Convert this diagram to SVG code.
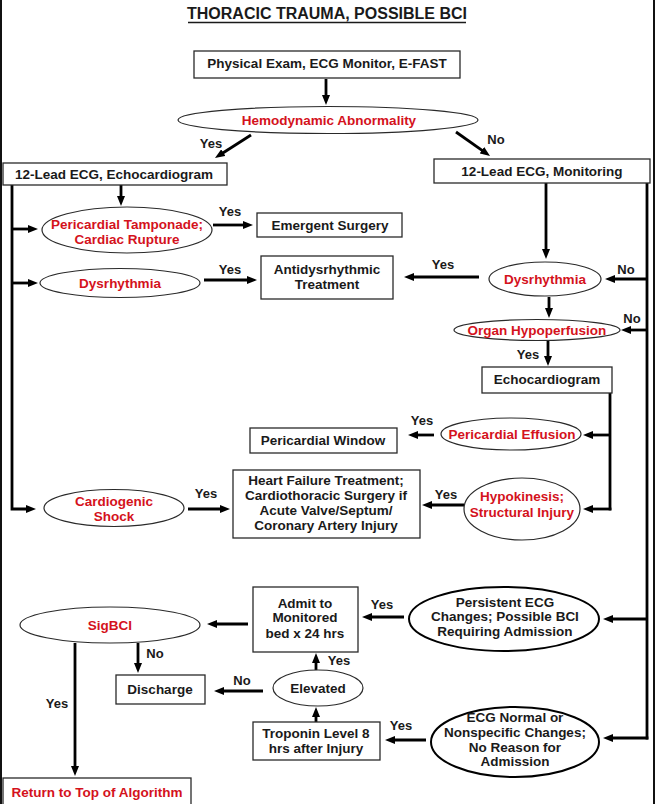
<svg xmlns="http://www.w3.org/2000/svg" width="656" height="804" viewBox="0 0 656 804">
<defs>
<style>
.box{fill:#fff;stroke:#2a2a2a;stroke-width:1.3}
.ell{fill:#fff;stroke:#2a2a2a;stroke-width:1.2}
.ellb{fill:#fff;stroke:#000;stroke-width:2}
.t{font-family:"Liberation Sans",Arial,sans-serif;font-weight:bold;font-size:13.5px;text-anchor:middle;fill:#1a1a1a}
.r{fill:#d4121c}
.lbl{font-family:"Liberation Sans",Arial,sans-serif;font-weight:bold;font-size:13px;text-anchor:middle;fill:#1a1a1a}
.c{stroke:#000;stroke-width:2.8;fill:none}
.a{marker-end:url(#ah)}
.frame{stroke:#111;stroke-width:2}
</style>
<marker id="ah" markerUnits="userSpaceOnUse" viewBox="0 0 10 8" markerWidth="10" markerHeight="8" refX="2" refY="4" orient="auto">
<path d="M0,0 L10,4 L0,8 z" fill="#000"/>
</marker>
</defs>
<rect width="656" height="804" fill="#fff"/>
<line class="frame" x1="1" y1="0" x2="1" y2="804"/>
<line class="frame" x1="654" y1="0" x2="654" y2="804"/>

<g id="title">
<text class="t" x="327" y="19" style="font-size:16px">THORACIC TRAUMA, POSSIBLE BCI</text>
<line x1="188" y1="22.5" x2="466" y2="22.5" stroke="#1a1a1a" stroke-width="1.6"/>
</g>

<g id="connectors">
<line class="c a" x1="326" y1="79" x2="326" y2="97"/>
<line class="c a" x1="251" y1="135" x2="221.7" y2="153.7"/>
<line class="c a" x1="456" y1="132" x2="483.5" y2="151.4"/>
<line class="c a" x1="121" y1="185" x2="121" y2="198"/>
<polyline class="c a" points="12,185 12,509 28,509"/>
<line class="c a" x1="12" y1="229" x2="30" y2="229"/>
<line class="c a" x1="12" y1="283" x2="30" y2="283"/>
<line class="c a" x1="213" y1="225" x2="245" y2="225"/>
<line class="c a" x1="204" y1="280" x2="249" y2="280"/>
<line class="c a" x1="479" y1="277" x2="412" y2="277"/>
<line class="c a" x1="546" y1="183" x2="546" y2="251"/>
<line class="c" x1="647" y1="183" x2="647" y2="739.4"/>
<line class="c a" x1="647" y1="279" x2="613" y2="279"/>
<line class="c a" x1="647" y1="330" x2="629" y2="330"/>
<line class="c a" x1="647" y1="619" x2="611" y2="619"/>
<line class="c a" x1="648.4" y1="738" x2="611" y2="738"/>
<line class="c a" x1="549" y1="297" x2="549" y2="310"/>
<line class="c a" x1="548" y1="341" x2="548" y2="358"/>
<line class="c" x1="610" y1="393" x2="610" y2="510.4"/>
<line class="c a" x1="610" y1="435" x2="591" y2="435"/>
<line class="c a" x1="611.4" y1="509" x2="591" y2="509"/>
<line class="c a" x1="434" y1="435" x2="416" y2="435"/>
<line class="c a" x1="464" y1="505" x2="430" y2="505"/>
<line class="c a" x1="188" y1="509" x2="222" y2="509"/>
<line class="c a" x1="404" y1="617" x2="370" y2="617"/>
<line class="c a" x1="248" y1="624" x2="215" y2="624"/>
<line class="c a" x1="138" y1="643" x2="138" y2="665"/>
<line class="c a" x1="263" y1="691" x2="222" y2="691"/>
<line class="c a" x1="316" y1="670" x2="316" y2="661"/>
<line class="c a" x1="316" y1="722" x2="316" y2="715"/>
<line class="c a" x1="426" y1="740" x2="393" y2="740"/>
<line class="c a" x1="75" y1="643" x2="75" y2="768"/>
</g>

<g id="labels">
<text class="lbl" x="211" y="148">Yes</text>
<text class="lbl" x="496" y="144">No</text>
<text class="lbl" x="230" y="216">Yes</text>
<text class="lbl" x="230" y="274">Yes</text>
<text class="lbl" x="443" y="269">Yes</text>
<text class="lbl" x="626" y="274">No</text>
<text class="lbl" x="632" y="323">No</text>
<text class="lbl" x="528" y="359">Yes</text>
<text class="lbl" x="422" y="425">Yes</text>
<text class="lbl" x="446" y="499">Yes</text>
<text class="lbl" x="206" y="498">Yes</text>
<text class="lbl" x="382" y="609">Yes</text>
<text class="lbl" x="155" y="658">No</text>
<text class="lbl" x="242" y="685">No</text>
<text class="lbl" x="339" y="665">Yes</text>
<text class="lbl" x="401" y="730">Yes</text>
<text class="lbl" x="57" y="708">Yes</text>
</g>

<g id="n-exam">
<rect class="box" x="194" y="51" width="266" height="27"/>
<text class="t" x="327" y="68">Physical Exam, ECG Monitor, E-FAST</text>
</g>
<g id="n-hemo">
<ellipse class="ell" cx="328" cy="120" rx="150" ry="13.5"/>
<text class="t r" x="329" y="125">Hemodynamic Abnormality</text>
</g>
<g id="n-lead-echo">
<rect class="box" x="3" y="163" width="224" height="22"/>
<text class="t" x="114" y="179">12-Lead ECG, Echocardiogram</text>
</g>
<g id="n-lead-mon">
<rect class="box" x="434" y="159" width="216" height="24"/>
<text class="t" x="542" y="176">12-Lead ECG, Monitoring</text>
</g>
<g id="n-tamponade">
<ellipse class="ell" cx="127" cy="230" rx="85" ry="23"/>
<text class="t r" x="127" y="229">Pericardial Tamponade;</text>
<text class="t r" x="127" y="244">Cardiac Rupture</text>
</g>
<g id="n-emergent">
<rect class="box" x="257" y="213" width="145" height="24"/>
<text class="t" x="330" y="230">Emergent Surgery</text>
</g>
<g id="n-dys-left">
<ellipse class="ell" cx="120" cy="283" rx="80" ry="14.5"/>
<text class="t r" x="120" y="288">Dysrhythmia</text>
</g>
<g id="n-antidys">
<rect class="box" x="261" y="256" width="132" height="43"/>
<text class="t" x="327" y="274">Antidysrhythmic</text>
<text class="t" x="327" y="289">Treatment</text>
</g>
<g id="n-dys-right">
<ellipse class="ell" cx="545" cy="279" rx="56" ry="17"/>
<text class="t r" x="545" y="284">Dysrhythmia</text>
</g>
<g id="n-organ">
<ellipse class="ell" cx="537" cy="330" rx="83" ry="10.5"/>
<text class="t r" x="537" y="335">Organ Hypoperfusion</text>
</g>
<g id="n-echo">
<rect class="box" x="482" y="367" width="130" height="26"/>
<text class="t" x="547" y="384">Echocardiogram</text>
</g>
<g id="n-effusion">
<ellipse class="ell" cx="511" cy="434" rx="70" ry="16"/>
<text class="t r" x="512" y="439">Pericardial Effusion</text>
</g>
<g id="n-window">
<rect class="box" x="250" y="428" width="147" height="25"/>
<text class="t" x="323" y="445">Pericardial Window</text>
</g>
<g id="n-hypokinesis">
<ellipse class="ell" cx="522" cy="509" rx="58" ry="31"/>
<text class="t r" x="522" y="501">Hypokinesis;</text>
<text class="t r" x="522" y="517">Structural Injury</text>
</g>
<g id="n-hf">
<rect class="box" x="233" y="470" width="187" height="68"/>
<text class="t" x="326" y="485">Heart Failure Treatment;</text>
<text class="t" x="326" y="500">Cardiothoracic Surgery if</text>
<text class="t" x="326" y="515">Acute Valve/Septum/</text>
<text class="t" x="326" y="530">Coronary Artery Injury</text>
</g>
<g id="n-cardiogenic">
<ellipse class="ell" cx="114" cy="508" rx="70" ry="18.5"/>
<text class="t r" x="114" y="506">Cardiogenic</text>
<text class="t r" x="114" y="521">Shock</text>
</g>
<g id="n-persistent">
<ellipse class="ellb" cx="504" cy="619" rx="95" ry="32"/>
<text class="t" x="505" y="607">Persistent ECG</text>
<text class="t" x="505" y="621">Changes; Possible BCI</text>
<text class="t" x="505" y="636">Requiring Admission</text>
</g>
<g id="n-admit">
<rect class="box" x="253" y="587" width="105" height="65"/>
<text class="t" x="305" y="608">Admit to</text>
<text class="t" x="305" y="622">Monitored</text>
<text class="t" x="305" y="638">bed x 24 hrs</text>
</g>
<g id="n-sigbci">
<ellipse class="ell" cx="110" cy="625" rx="90" ry="18"/>
<text class="t r" x="110" y="630">SigBCI</text>
</g>
<g id="n-discharge">
<rect class="box" x="116" y="675" width="89" height="29"/>
<text class="t" x="160" y="694">Discharge</text>
</g>
<g id="n-elevated">
<ellipse class="ell" cx="318" cy="688" rx="45" ry="18"/>
<text class="t" x="318" y="693">Elevated</text>
</g>
<g id="n-troponin">
<rect class="box" x="253" y="722" width="127" height="38"/>
<text class="t" x="316" y="738">Troponin Level 8</text>
<text class="t" x="316" y="753">hrs after Injury</text>
</g>
<g id="n-ecgnormal">
<ellipse class="ellb" cx="515" cy="742" rx="84" ry="35"/>
<text class="t" x="515" y="722">ECG Normal or</text>
<text class="t" x="515" y="737">Nonspecific Changes;</text>
<text class="t" x="515" y="752">No Reason for</text>
<text class="t" x="515" y="766">Admission</text>
</g>
<g id="n-return">
<rect class="box" x="3" y="778" width="188" height="30"/>
<text class="t r" x="97" y="797">Return to Top of Algorithm</text>
</g>
</svg>
